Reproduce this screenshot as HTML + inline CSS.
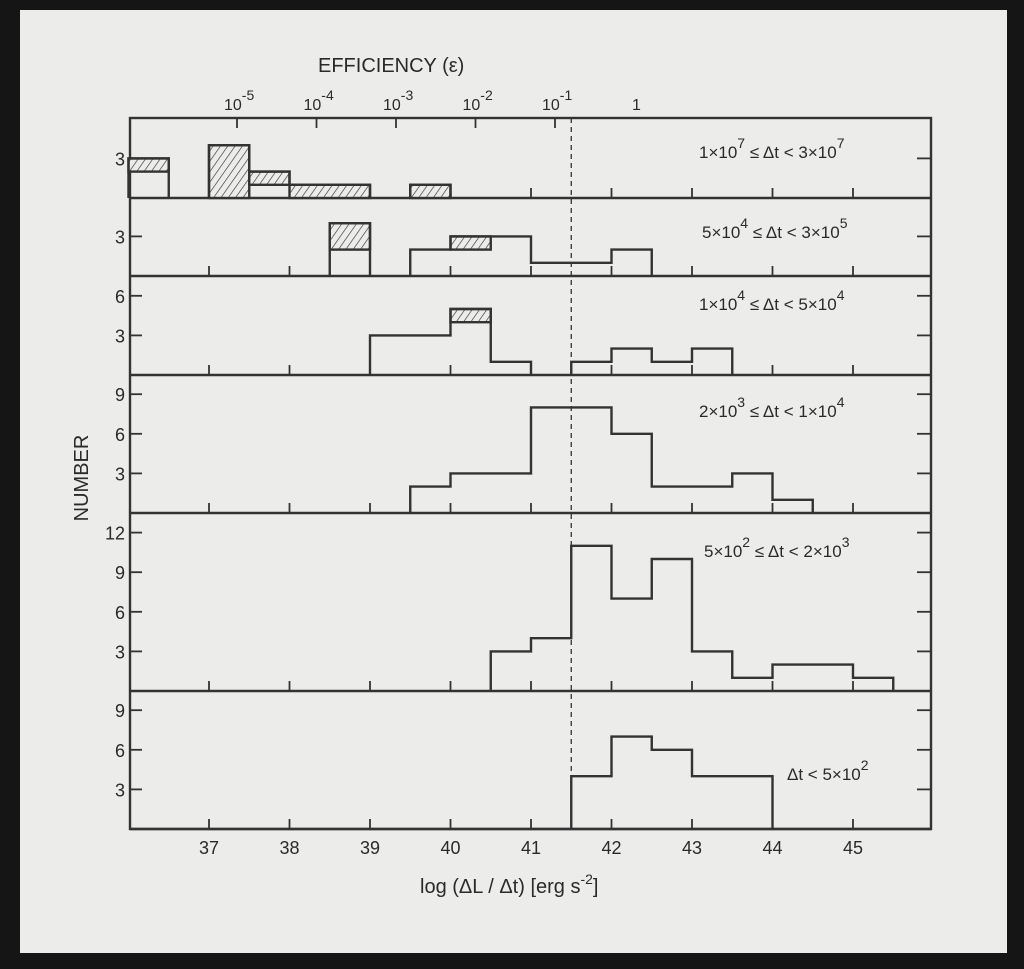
<!DOCTYPE html>
<html><head><meta charset="utf-8"><style>
html,body{margin:0;padding:0;background:#111;}
svg{display:block;}
text{font-family:"Liberation Sans",sans-serif;fill:#2a2a2a;}
</style></head><body>
<svg id="s" width="1024" height="969" viewBox="0 0 1024 969" xmlns="http://www.w3.org/2000/svg">
<defs>
<pattern id="h" patternUnits="userSpaceOnUse" width="6" height="6" patternTransform="rotate(35)">
<rect width="6" height="6" fill="#ececea"/>
<line x1="0" y1="0" x2="0" y2="6" stroke="#333" stroke-width="1.3"/>
</pattern>
</defs>
<rect x="0" y="0" width="1024" height="969" fill="#151515"/>
<rect x="20" y="10" width="987" height="943" fill="#ececea"/>
<g id="g" stroke="#333" stroke-width="2.4" fill="none"></g>
<text x="318" y="72" font-size="20">EFFICIENCY (ε)</text>
<text x="88" y="478" font-size="20" transform="rotate(-90 88 478)" text-anchor="middle">NUMBER</text>
<text x="420" y="893" font-size="20">log (ΔL / Δt) [erg s<tspan dy="-9" font-size="14">-2</tspan><tspan dy="9">]</tspan></text>
</svg>
<script>
const g=document.getElementById('g'),S=document.getElementById('s'),NS="http://www.w3.org/2000/svg";
function el(t,a,p){const e=document.createElementNS(NS,t);for(const k in a)e.setAttribute(k,a[k]);(p||g).appendChild(e);return e;}
const X=v=>209+(v-37)*80.5, L=130, R=931, K=13.2;
const P=[[118,198],[198,276],[276,375],[375,513],[513,691],[691,829]];
el('rect',{x:L,y:118,width:R-L,height:829-118});
P.forEach(p=>el('line',{x1:L,y1:p[1],x2:R,y2:p[1]}));
const D=[
 [[36,36.5,2,3],[37,37.5,0,4],[37.5,38,1,2],[38,39,0,1],[39.5,40,0,1]],
 [[38.5,39,2,4],[39.5,40,2,2],[40,40.5,2,3],[40.5,41,3,3],[41,42,1,1],[42,42.5,2,2]],
 [[39,40,3,3],[40,40.5,4,5],[40.5,41,1,1],[41.5,42,1,1],[42,42.5,2,2],[42.5,43,1,1],[43,43.5,2,2]],
 [[39.5,40,2,2],[40,40.5,3,3],[40.5,41,3,3],[41,42,8,8],[42,42.5,6,6],[42.5,43.5,2,2],[43.5,44,3,3],[44,44.5,1,1]],
 [[40.5,41,3,3],[41,41.5,4,4],[41.5,42,11,11],[42,42.5,7,7],[42.5,43,10,10],[43,43.5,3,3],[43.5,44,1,1],[44,45,2,2],[45,45.5,1,1]],
 [[41.5,42,4,4],[42,42.5,7,7],[42.5,43,6,6],[43,44,4,4]]];
const ticks=[[3],[3],[3,6],[3,6,9],[3,6,9,12],[3,6,9]];
P.forEach((p,i)=>{const b=p[1];
 D[i].forEach(d=>{const x0=X(d[0]),x1=X(d[1]);
  if(d[3]>d[2]){el('rect',{x:x0,y:b-d[3]*K,width:x1-x0,height:(d[3]-d[2])*K,fill:'url(#h)'});}
 });
 let runs=[],cur=null;
 D[i].forEach(d=>{if(cur&&Math.abs(cur[cur.length-1][1]-d[0])<1e-6)cur.push(d);else{cur=[d];runs.push(cur);}});
 runs.forEach(r=>{let s='M'+X(r[0][0])+','+b;r.forEach(d=>{s+=' L'+X(d[0])+','+(b-d[3]*K)+' L'+X(d[1])+','+(b-d[3]*K);});s+=' L'+X(r[r.length-1][1])+','+b;el('path',{d:s});});
 for(let v=37;v<=45;v++) el('line',{x1:X(v),y1:b,x2:X(v),y2:b-10,'stroke-width':1.8});
 ticks[i].forEach(t=>{const y=b-t*K;el('line',{x1:L,y1:y,x2:L+12,y2:y,'stroke-width':1.8});el('line',{x1:R,y1:y,x2:R-14,y2:y,'stroke-width':1.8});
  const tx=el('text',{x:L-5,y:y+7,'font-size':18,'text-anchor':'end',stroke:'none',fill:'#2a2a2a'},S);tx.textContent=t;});
});
for(let k=0;k<5;k++){const x=237+79.5*k;el('line',{x1:x,y1:118,x2:x,y2:128,'stroke-width':1.8});}
el('line',{x1:X(41.5),y1:118,x2:X(41.5),y2:829,'stroke-width':1.3,'stroke-dasharray':'5,4'});
for(let v=37;v<=45;v++){const t=el('text',{x:X(v),y:854,'font-size':18,'text-anchor':'middle',stroke:'none'},S);t.textContent=v;}
const ex=["-5","-4","-3","-2","-1"];
ex.forEach((e,k)=>{const x=237+79.5*k;const t=el('text',{x:x-13,y:110,'font-size':16,stroke:'none'},S);
 t.innerHTML='10<tspan dy="-10" font-size="14">'+e+'</tspan>';});
{const t=el('text',{x:632,y:110,'font-size':16,stroke:'none'},S);t.textContent='1';}
const lab=[[158,'1×10<tspan dy="-10" font-size="14">7</tspan><tspan dy="10"> ≤ Δt &lt; 3×10</tspan><tspan dy="-10" font-size="14">7</tspan>',699],
[238,'5×10<tspan dy="-10" font-size="14">4</tspan><tspan dy="10"> ≤ Δt &lt; 3×10</tspan><tspan dy="-10" font-size="14">5</tspan>',702],
[310,'1×10<tspan dy="-10" font-size="14">4</tspan><tspan dy="10"> ≤ Δt &lt; 5×10</tspan><tspan dy="-10" font-size="14">4</tspan>',699],
[417,'2×10<tspan dy="-10" font-size="14">3</tspan><tspan dy="10"> ≤ Δt &lt; 1×10</tspan><tspan dy="-10" font-size="14">4</tspan>',699],
[557,'5×10<tspan dy="-10" font-size="14">2</tspan><tspan dy="10"> ≤ Δt &lt; 2×10</tspan><tspan dy="-10" font-size="14">3</tspan>',704],
[780,'Δt &lt; 5×10<tspan dy="-10" font-size="14">2</tspan>',787]];
lab.forEach(l=>{const t=el('text',{x:l[2],y:l[0],'font-size':17,stroke:'none'},S);t.innerHTML=l[1];});
</script>
</body></html>
